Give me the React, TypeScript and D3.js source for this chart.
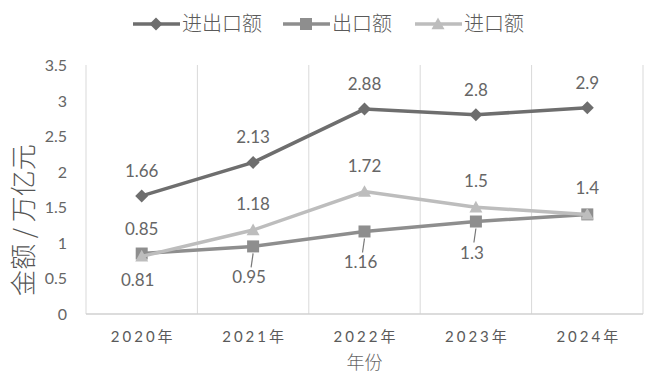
import React from "react";
import * as d3 from "d3";

// 数据
const categories = ["2020年", "2021年", "2022年", "2023年", "2024年"];
const totalValues = [1.66, 2.13, 2.88, 2.8, 2.9];
const exportValues = [0.85, 0.95, 1.16, 1.3, 1.4];
const importValues = [0.81, 1.18, 1.72, 1.5, 1.4];
const yTicks = [0, 0.5, 1, 1.5, 2, 2.5, 3, 3.5];

const width = 645;
const height = 375;
const margin = { top: 65, right: 2, bottom: 61, left: 86 };

const numFont = "Lato, 'Open Sans', 'Noto Sans CJK SC', sans-serif";
const cjkFont = "'Noto Sans CJK SC', sans-serif";
const labelColor = "#666";

const colors = {
  total: "#6e6e6e",
  exp: "#8e8e8e",
  imp: "#bdbdbd",
};

const Marker = ({ kind, x, y, fill }: { kind: string; x: number; y: number; fill: string }) => {
  if (kind === "diamond") {
    const s = 6.5;
    return <path d={`M${x},${y - s}L${x + s},${y}L${x},${y + s}L${x - s},${y}Z`} fill={fill} />;
  }
  if (kind === "square") {
    const s = 6;
    return <rect x={x - s} y={y - s} width={s * 2} height={s * 2} fill={fill} />;
  }
  const s = 6.5;
  return <path d={`M${x},${y - s}L${x + s},${y + s * 0.8}L${x - s},${y + s * 0.8}Z`} fill={fill} />;
};

const App = () => {
  const x = d3
    .scaleBand<string>()
    .domain(categories)
    .range([margin.left, width - margin.right])
    .padding(0);
  const y = d3
    .scaleLinear()
    .domain([0, 3.5])
    .range([height - margin.bottom, margin.top]);

  const cx = (c: string) => (x(c) ?? 0) + x.bandwidth() / 2;

  const line = d3
    .line<number>()
    .x((_, i) => cx(categories[i]))
    .y((d) => y(d));

  const series = [
    { name: "进出口额", values: totalValues, color: colors.total, marker: "diamond" },
    { name: "出口额", values: exportValues, color: colors.exp, marker: "square" },
    { name: "进口额", values: importValues, color: colors.imp, marker: "triangle" },
  ];

  const legendPos = [133, 283, 415];
  const bottom = height - margin.bottom;

  // 数据标签位置由数值大小关系决定
  const labels: { x: number; y: number; text: string; leader?: number }[] = [];
  categories.forEach((c, i) => {
    const px = cx(c);
    labels.push({ x: px, y: y(totalValues[i]) - 19, text: String(totalValues[i]) });
    const e = exportValues[i];
    const m = importValues[i];
    if (m >= e) {
      labels.push({ x: px, y: y(m) - 20, text: String(m) });
      if (m !== e) {
        labels.push({ x: px - 4, y: y(e) + 37, text: String(e), leader: y(e) });
      }
    } else {
      labels.push({ x: px, y: y(e) - 19, text: String(e) });
      labels.push({ x: px - 4, y: y(m) + 30, text: String(m) });
    }
  });

  return (
    <svg width={width} height={height} style={{ position: "absolute", left: 0, top: 0, background: "#fff" }}>
      {/* 图例 */}
      {series.map((s, i) => (
        <g key={s.name}>
          <line x1={legendPos[i]} x2={legendPos[i] + 47} y1={24} y2={24} stroke={s.color} strokeWidth={3.5} />
          <Marker kind={s.marker} x={legendPos[i] + 23} y={24} fill={s.color} />
          <text x={legendPos[i] + 49} y={31} fontSize={20} fill="#5a5a5a" fontFamily={cjkFont} fontWeight={300}>
            {s.name}
          </text>
        </g>
      ))}

      {/* 竖向网格 */}
      {[...categories.map((c) => x(c) ?? 0), width - margin.right].map((gx, i) => (
        <line key={i} x1={gx} x2={gx} y1={margin.top} y2={bottom} stroke="#d9d9d9" strokeWidth={1} />
      ))}
      <line x1={margin.left} x2={width - margin.right} y1={bottom} y2={bottom} stroke="#d0d0d0" strokeWidth={1.5} />

      {/* Y 轴刻度 */}
      {yTicks.map((t) => (
        <text key={t} x={67} y={y(t) + 6} fontSize={16} textAnchor="end" fill={labelColor} fontFamily={numFont}>
          {t}
        </text>
      ))}

      {/* X 轴刻度 */}
      {categories.map((c) => (
        <text key={c} x={cx(c) + 1.5} y={342} fontSize={15} textAnchor="middle" fill="#5a5a5a" fontFamily={numFont} letterSpacing={3}>
          {c}
        </text>
      ))}

      {/* 轴标题 */}
      <text x={(margin.left + width - margin.right) / 2} y={369} fontSize={18} textAnchor="middle" fill={labelColor} fontFamily={cjkFont} fontWeight={300}>
        年份
      </text>
      <text
        transform="translate(33,220) rotate(-90)"
        fontSize={26}
        textAnchor="middle"
        fill="#555"
        fontFamily={cjkFont}
        fontWeight={300}
      >
        金额 / 万亿元
      </text>

      {/* 折线 */}
      {series.map((s) => (
        <g key={s.name}>
          <path d={line(s.values) ?? ""} fill="none" stroke={s.color} strokeWidth={3.5} />
          {s.values.map((v, i) => (
            <Marker key={i} kind={s.marker} x={cx(categories[i])} y={y(v)} fill={s.color} />
          ))}
        </g>
      ))}

      {/* 数据标签 */}
      {labels.map((l, i) => (
        <g key={i}>
          {l.leader !== undefined && (
            <line x1={l.x + 4} y1={l.leader + 7} x2={l.x + 2} y2={l.y - 16} stroke="#777" strokeWidth={1.2} />
          )}
          <text x={l.x} y={l.y} fontSize={17} textAnchor="middle" fill={labelColor} fontFamily={numFont}>
            {l.text}
          </text>
        </g>
      ))}
    </svg>
  );
};

export default App;
